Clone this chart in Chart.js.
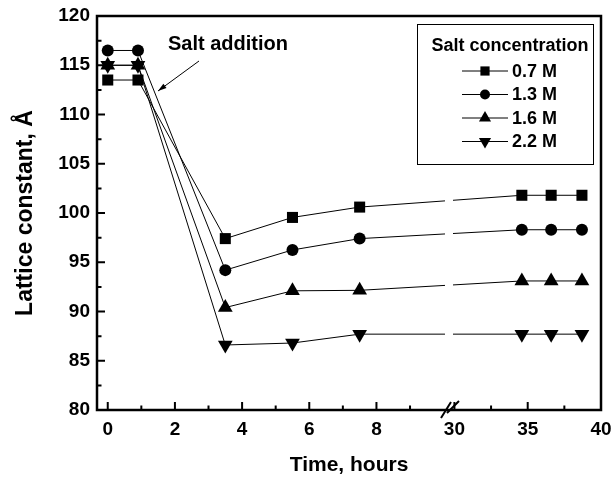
<!DOCTYPE html>
<html>
<head>
<meta charset="utf-8">
<script src="https://cdn.jsdelivr.net/npm/chart.js@4.4.1/dist/chart.umd.min.js"></script>
<style>
  html, body { margin: 0; padding: 0; background: #fff; }
</style>
</head>
<body>
<canvas id="myChart" width="613" height="479"></canvas>
<script>
// Dados
const times = [0, 0.9, 3.5, 5.5, 7.5, 34.6, 36.6, 38.7];
const c07 = [113.5, 113.5, 97.4, 99.55, 100.6, 101.8, 101.8, 101.8];
const c13 = [116.5, 116.5, 94.2, 96.25, 97.4, 98.3, 98.3, 98.3];
const c16 = [115.0, 115.0, 90.4, 92.1, 92.15, 93.1, 93.1, 93.1];
const c22 = [115.0, 115.0, 86.6, 86.8, 87.7, 87.7, 87.7, 87.7];
const seriesNames = ['0.7 M', '1.3 M', '1.6 M', '2.2 M'];

// Ticks
const xTicks = [0, 2, 4, 6, 8, 30, 35, 40];
const xMinor = [1, 3, 5, 7, 9, 32.5, 37.5];
const yTicks = [80, 85, 90, 95, 100, 105, 110, 115, 120];
const yMinor = [82.5, 87.5, 92.5, 97.5, 102.5, 107.5, 112.5, 117.5];

const FONT = "'Liberation Sans', Arial, sans-serif";

// Escala linear com quebra (eixo x partido)
class BrokenScale extends Chart.LinearScale {
    splitPixel() { return this.left + this.width * this.options.breakRatio; }
    getPixelForValue(value) {
        const [b0, b1] = this.options.breakRange;
        const s = this.splitPixel();
        if (value <= b0) return this.left + (value - this.min) / (b0 - this.min) * (s - this.left);
        return s + (value - b1) / (this.max - b1) * (this.right - s);
    }
    getValueForPixel(pixel) {
        const [b0, b1] = this.options.breakRange;
        const s = this.splitPixel();
        if (pixel <= s) return this.min + (pixel - this.left) / (s - this.left) * (b0 - this.min);
        return b1 + (pixel - s) / (this.right - s) * (this.max - b1);
    }
}
BrokenScale.id = 'broken';
BrokenScale.defaults = Chart.LinearScale.defaults;
Chart.register(BrokenScale);

const styles = [
    { pointStyle: 'rect', radius: 7.8, rotation: 0, legendRadius: 6.5 },
    { pointStyle: 'circle', radius: 6, rotation: 0, legendRadius: 5 },
    { pointStyle: 'triangle', radius: 8.5, rotation: 0, legendRadius: 7 },
    { pointStyle: 'triangle', radius: 8.5, rotation: 180, legendRadius: 7 }
];

function makeDataset(values, i) {
    return {
        label: seriesNames[i],
        data: times.map((t, k) => ({ x: t, y: values[k] })),
        borderColor: '#000',
        backgroundColor: '#000',
        borderWidth: 1,
        pointStyle: styles[i].pointStyle,
        pointRadius: styles[i].radius,
        pointRotation: styles[i].rotation,
        pointBorderWidth: 0,
        pointBackgroundColor: '#000',
        tension: 0
    };
}

// Moldura, ticks internos, quebra, legenda e anotação
const framePlugin = {
    id: 'framePlugin',
    afterDatasetsDraw(chart) {
        const { ctx, chartArea: a, scales: { x, y } } = chart;
        const s = x.splitPixel();
        ctx.save();
        // lacuna nas linhas na quebra
        ctx.fillStyle = '#fff';
        ctx.fillRect(s - 4, y.getPixelForValue(104), 8, y.getPixelForValue(81) - y.getPixelForValue(104));

        // moldura
        ctx.strokeStyle = '#000';
        ctx.lineWidth = 2.5;
        ctx.strokeRect(a.left, a.top, a.right - a.left, a.bottom - a.top);

        // ticks
        ctx.lineWidth = 2;
        ctx.beginPath();
        xTicks.forEach(v => { const p = x.getPixelForValue(v); ctx.moveTo(p, a.bottom); ctx.lineTo(p, a.bottom - 8); });
        xMinor.forEach(v => { const p = x.getPixelForValue(v); ctx.moveTo(p, a.bottom); ctx.lineTo(p, a.bottom - 4.5); });
        yTicks.forEach(v => { const p = y.getPixelForValue(v); ctx.moveTo(a.left, p); ctx.lineTo(a.left + 8, p); });
        yMinor.forEach(v => { const p = y.getPixelForValue(v); ctx.moveTo(a.left, p); ctx.lineTo(a.left + 4.5, p); });
        ctx.stroke();

        // marca de quebra //
        ctx.lineWidth = 2;
        ctx.beginPath();
        ctx.moveTo(s - 8, a.bottom + 8); ctx.lineTo(s + 2, a.bottom - 8);
        ctx.moveTo(s - 2, a.bottom + 3); ctx.lineTo(s + 10, a.bottom - 9);
        ctx.stroke();

        // anotação
        ctx.fillStyle = '#000';
        ctx.font = `bold 20px ${FONT}`;
        ctx.textAlign = 'left';
        ctx.textBaseline = 'middle';
        ctx.fillText('Salt addition', 168, 44);
        ctx.lineWidth = 1;
        ctx.beginPath();
        ctx.moveTo(199, 61); ctx.lineTo(158, 91);
        ctx.stroke();
        const ang = Math.atan2(91 - 61, 158 - 199);
        ctx.beginPath();
        ctx.moveTo(158, 91);
        ctx.lineTo(158 - 9 * Math.cos(ang - 0.3), 91 - 9 * Math.sin(ang - 0.3));
        ctx.lineTo(158 - 9 * Math.cos(ang + 0.3), 91 - 9 * Math.sin(ang + 0.3));
        ctx.closePath();
        ctx.fill();

        // legenda
        ctx.lineWidth = 1;
        ctx.strokeStyle = '#000';
        ctx.strokeRect(417.5, 24.5, 176, 140);
        ctx.font = `bold 18px ${FONT}`;
        ctx.textAlign = 'center';
        ctx.fillText('Salt concentration', 510, 46);
        ctx.textAlign = 'left';
        chart.data.datasets.forEach((ds, i) => {
            const ly = 71 + i * 23.5;
            ctx.beginPath();
            ctx.moveTo(462, ly); ctx.lineTo(508, ly);
            ctx.stroke();
            Chart.helpers.drawPoint(ctx, {
                pointStyle: styles[i].pointStyle,
                radius: styles[i].legendRadius,
                rotation: styles[i].rotation,
                borderWidth: 0
            }, 485, ly);
            ctx.fillText(ds.label, 512, ly + 1);
        });
        ctx.restore();
    }
};

const ctx = document.getElementById('myChart').getContext('2d');
const myChart = new Chart(ctx, {
    type: 'line',
    data: {
        datasets: [c07, c13, c16, c22].map(makeDataset)
    },
    options: {
        responsive: false,
        animation: false,
        devicePixelRatio: 1,
        layout: { padding: { top: 16, right: 12, left: 0, bottom: 0 } },
        plugins: {
            legend: { display: false },
            tooltip: { enabled: false }
        },
        scales: {
            x: {
                type: 'broken',
                min: -0.32,
                max: 40,
                breakRange: [10.16, 29.63],
                breakRatio: 0.6984,
                afterBuildTicks: s => { s.ticks = xTicks.map(v => ({ value: v })); },
                afterFit: s => { s.height = 69; s.paddingLeft = 0; s.paddingRight = 0; },
                grid: { display: false, drawTicks: false },
                border: { display: false },
                ticks: {
                    color: '#000',
                    font: { family: FONT, size: 19, weight: 'bold' },
                    padding: 8,
                    maxRotation: 0,
                    autoSkip: false,
                    callback: v => String(v)
                },
                title: {
                    display: true,
                    text: 'Time, hours',
                    color: '#000',
                    font: { family: FONT, size: 21, weight: 'bold' },
                    padding: { top: 0, bottom: 1 }
                }
            },
            y: {
                min: 80,
                max: 120,
                afterBuildTicks: s => { s.ticks = yTicks.map(v => ({ value: v })); },
                afterFit: s => { s.width = 97; s.paddingTop = 0; s.paddingBottom = 0; },
                grid: { display: false, drawTicks: false },
                border: { display: false },
                ticks: {
                    color: '#000',
                    font: { family: FONT, size: 19, weight: 'bold' },
                    padding: 7,
                    callback: v => String(v)
                },
                title: {
                    display: true,
                    text: 'Lattice constant, Å',
                    color: '#000',
                    font: { family: FONT, size: 23, weight: 'bold' },
                    padding: { top: 12, bottom: 0 }
                }
            }
        }
    },
    plugins: [framePlugin]
});
</script>
</body>
</html>
